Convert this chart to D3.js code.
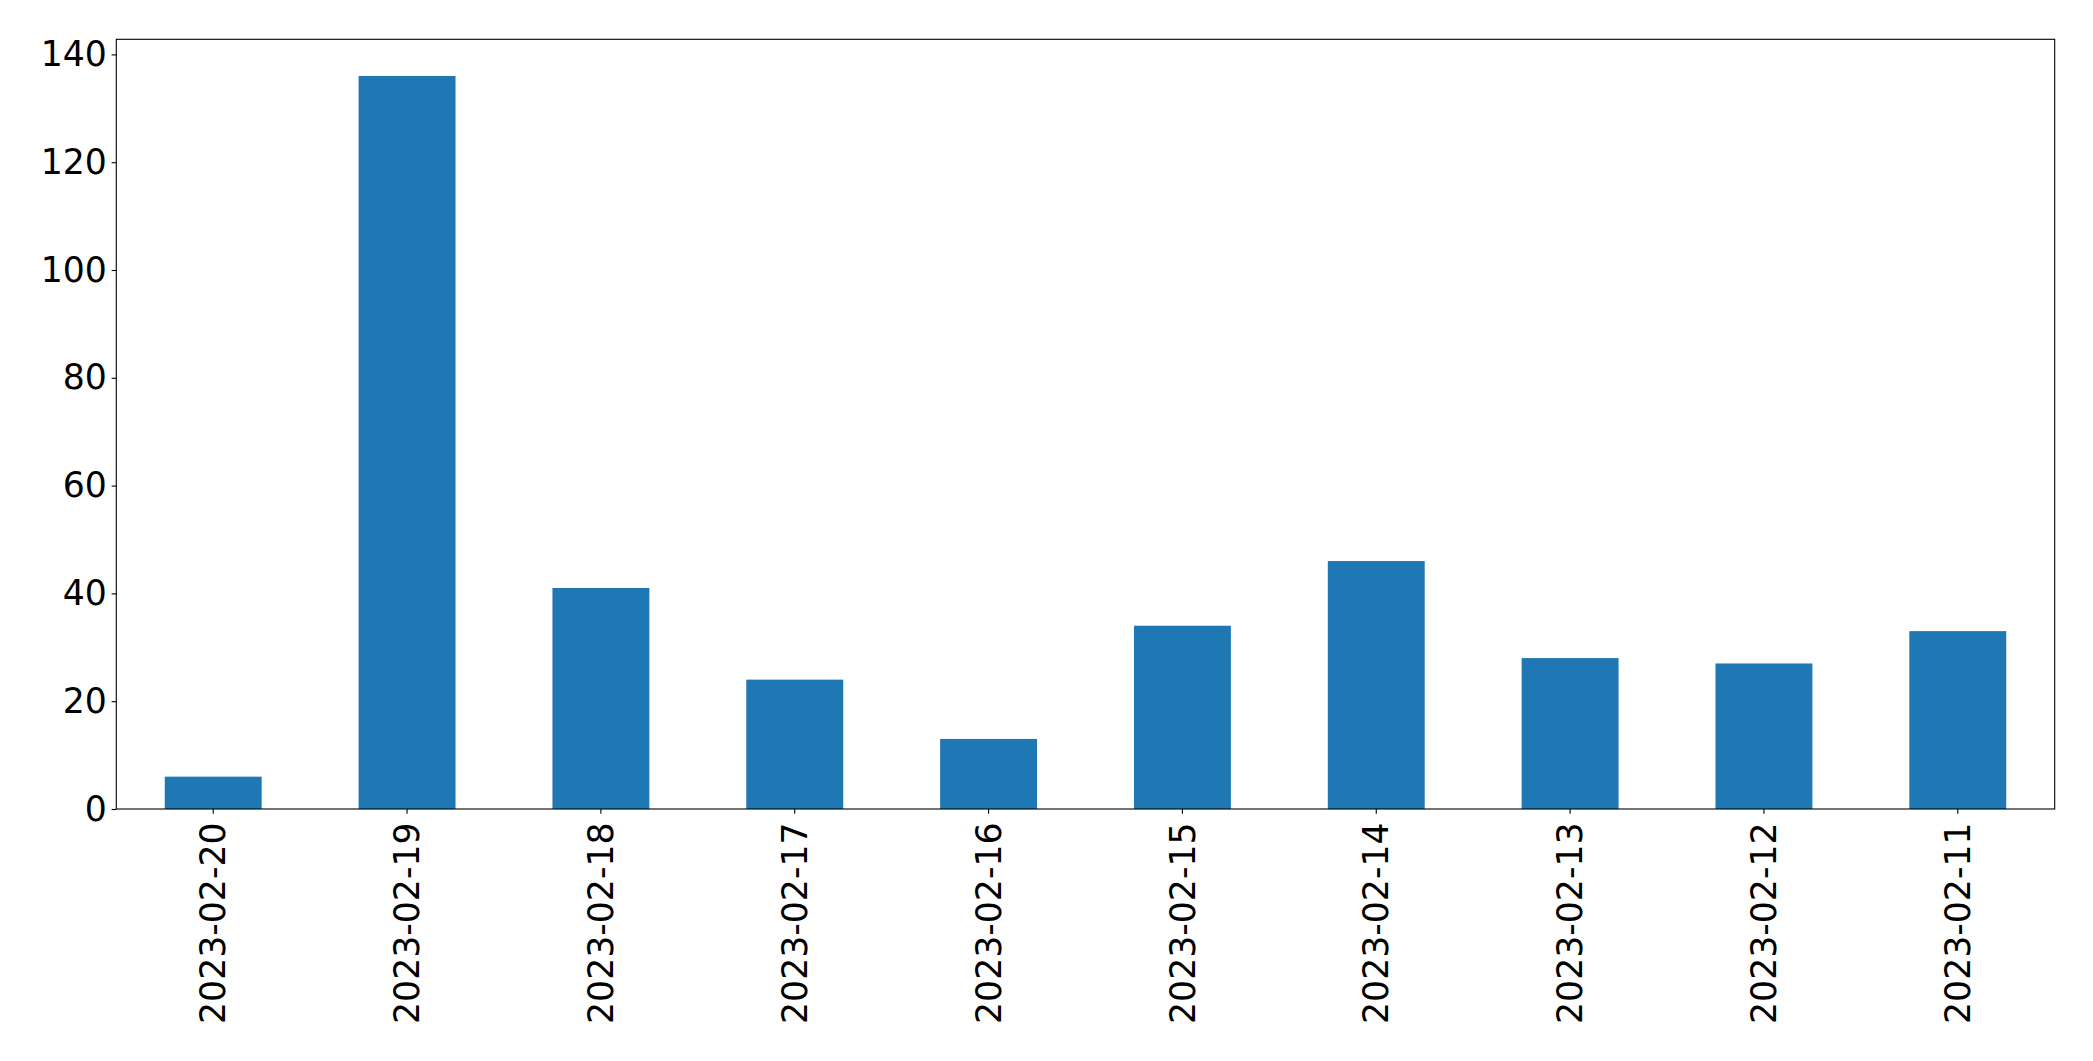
<!DOCTYPE html>
<html>
<head>
<meta charset="utf-8">
<script src="https://cdn.jsdelivr.net/npm/d3@7"></script>
<style>
  html, body { margin: 0; padding: 0; background: #fff; }
  svg { display: block; }
  text { font-family: "DejaVu Sans", sans-serif; }
</style>
</head>
<body>
<script>
const categories = ["2023-02-20","2023-02-19","2023-02-18","2023-02-17","2023-02-16","2023-02-15","2023-02-14","2023-02-13","2023-02-12","2023-02-11"];
const values = [6, 136, 41, 24, 13, 34, 46, 28, 27, 33];
const yTicks = [0, 20, 40, 60, 80, 100, 120, 140];

const W = 2093, H = 1061;
const mLeft = 116.3, mRight = 2054.7, mTop = 39.3, mBottom = 809;
const fontSize = 34.7;
const tickLen = 4.7, tickPad = 4.7;

const svg = d3.select("body").append("svg").attr("width", W).attr("height", H);

const x = d3.scaleBand().domain(categories).range([mLeft, mRight]).paddingInner(0.5).paddingOuter(0.25);
const y = d3.scaleLinear().domain([0, d3.max(values) * 1.05]).range([mBottom, mTop]);

svg.append("g").selectAll("rect").data(values).join("rect")
  .attr("x", (d, i) => x(categories[i]))
  .attr("width", x.bandwidth())
  .attr("y", d => y(d))
  .attr("height", d => y(0) - y(d))
  .attr("fill", "#1f77b4");

// frame
svg.append("rect").attr("x", mLeft).attr("y", mTop).attr("width", mRight - mLeft).attr("height", mBottom - mTop)
  .attr("fill", "none").attr("stroke", "#000").attr("stroke-width", 1.1);

// y axis
const yAxis = d3.axisLeft(y).tickValues(yTicks).tickSize(tickLen).tickPadding(tickPad).tickFormat(d3.format("d"));
const gy = svg.append("g").attr("transform", `translate(${mLeft},0)`).call(yAxis);
gy.select(".domain").remove();
gy.selectAll("line").attr("stroke", "#000").attr("stroke-width", 1.1);
gy.selectAll("text").attr("font-size", fontSize).attr("font-family", "DejaVu Sans").attr("fill", "#000");

// x axis
const xAxis = d3.axisBottom(x).tickSize(tickLen).tickPadding(tickPad);
const gx = svg.append("g").attr("transform", `translate(0,${mBottom})`).call(xAxis);
gx.select(".domain").remove();
gx.selectAll("line").attr("stroke", "#000").attr("stroke-width", 1.1);
gx.selectAll("text")
  .attr("font-size", fontSize).attr("font-family", "DejaVu Sans").attr("fill", "#000")
  .attr("transform", `translate(0,${tickLen + tickPad + 4}) rotate(-90)`)
  .attr("x", 0).attr("y", 0).attr("dy", "0.35em")
  .attr("text-anchor", "end");
</script>
</body>
</html>
